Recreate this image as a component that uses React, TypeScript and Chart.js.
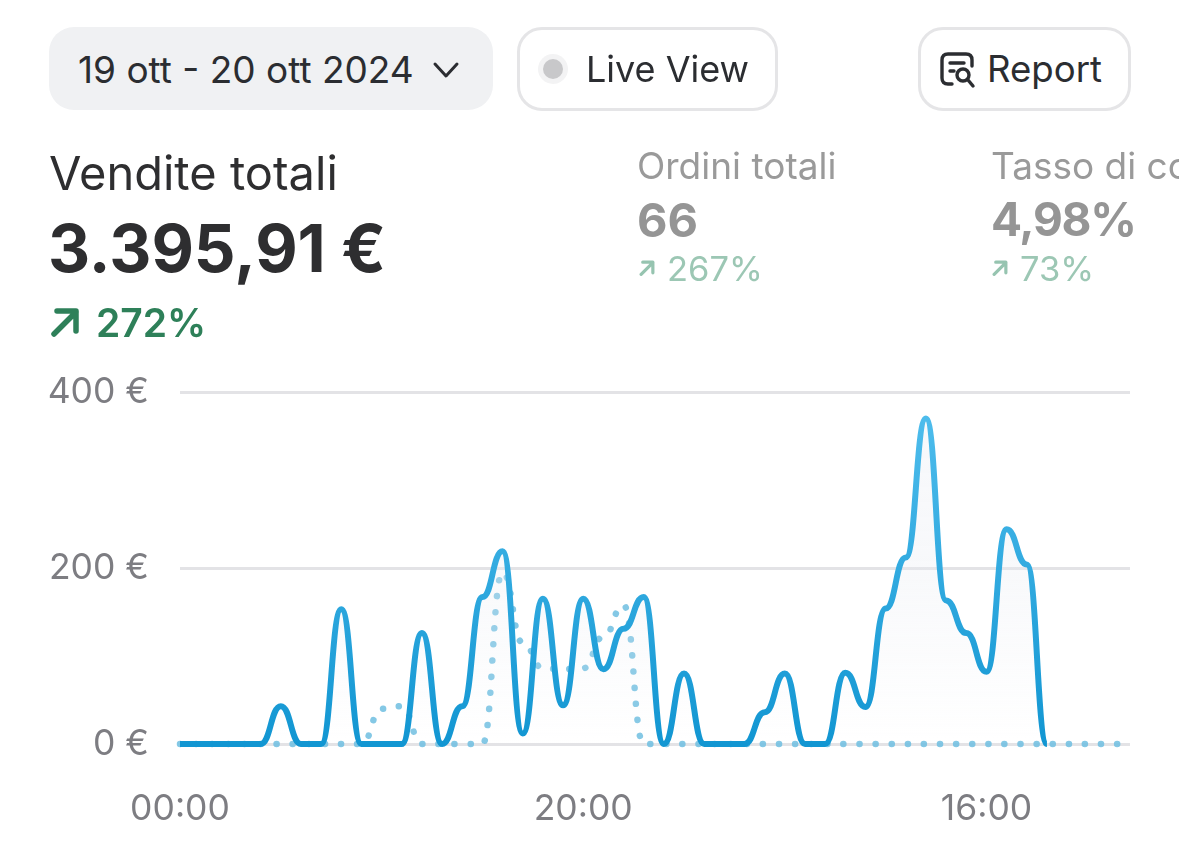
import React, { useEffect, useRef } from "react";
import { Chart, registerables } from "chart.js";

Chart.register(...registerables);

const hours = [
  "00:00","01:00","02:00","03:00","04:00","05:00","06:00","07:00","08:00","09:00","10:00","11:00",
  "12:00","13:00","14:00","15:00","16:00","17:00","18:00","19:00","20:00","21:00","22:00","23:00",
  "00:00","01:00","02:00","03:00","04:00","05:00","06:00","07:00","08:00","09:00","10:00","11:00",
  "12:00","13:00","14:00","15:00","16:00","17:00","18:00","19:00","20:00","21:00","22:00","23:00",
];
const currentSales = [
  0,0,0,0,0,43,0,0,153,0,0,0,
  126,0,43,167,219,12,165,44,165,85,131,167,
  0,80,0,0,0,36,80,0,0,81,42,154,
  212,370,163,126,82,244,204,0,null,null,null,null,
];
const previousSales = [
  0,0,0,0,0,0,0,0,0,0,40,43,
  0,0,0,0,195,115,86,85,86,122,158,0,
  0,0,0,0,0,0,0,0,0,0,0,0,
  0,0,0,0,0,0,0,0,0,0,0,0,
];
const yTicks = [0, 200, 400];
const font = "Inter, 'Noto Sans', sans-serif";

// Every data point gets a horizontal tangent, as in a rounded step curve.
const roundedStep = {
  id: "roundedStep",
  beforeDraw(chart: any) {
    chart.getSortedVisibleDatasetMetas().forEach((meta: any) => {
      meta.dataset.updateControlPoints(chart.chartArea, "x");
      const pts = meta.data;
      for (let i = 0; i < pts.length; i++) {
        const p = pts[i];
        const prev = pts[i - 1];
        const next = pts[i + 1];
        p.cp1x = prev ? (prev.x + p.x) / 2 : p.x;
        p.cp1y = p.y;
        p.cp2x = next ? (next.x + p.x) / 2 : p.x;
        p.cp2y = p.y;
      }
    });
  },
};

const T = ({ x, y, size, color, weight = 400, children, ls = 0 }: any) => (
  <div style={{ position: "absolute", left: x, top: y, fontSize: size, lineHeight: `${size}px`, color, fontWeight: weight, whiteSpace: "nowrap", letterSpacing: ls, transform: "translateY(-50%)" }}>{children}</div>
);

const Arrow = ({ x, y, s, color, w }: any) => (
  <svg style={{ position: "absolute", left: x, top: y }} width={s} height={s} viewBox="0 0 30 30" fill="none" stroke={color} strokeWidth={w} strokeLinecap="round" strokeLinejoin="round">
    <path d="M4 27 L26 5 M7 4 H26 V24" />
  </svg>
);

const Box = ({ x, y, w, h, bg, border }: any) => (
  <div style={{ position: "absolute", left: x, top: y, width: w, height: h, boxSizing: "border-box", borderRadius: 25, background: bg, border }} />
);

export default function App() {
  const ref = useRef<HTMLCanvasElement>(null);
  useEffect(() => {
    const chart = new Chart(ref.current!, {
      type: "line",
      plugins: [roundedStep],
      data: {
        datasets: [
          {
            data: currentSales.map((y, x) => ({ x, y })),
            cubicInterpolationMode: "monotone",
            borderWidth: 6,
            pointRadius: 0,
            clip: 8,
            fill: "origin",
            borderColor: (c: any) => {
              const a = c.chart.chartArea;
              if (!a) return "#1a9ad4";
              const g = c.chart.ctx.createLinearGradient(0, a.top, 0, a.bottom);
              g.addColorStop(0, "#52bfee");
              g.addColorStop(1, "#1296d2");
              return g;
            },
            backgroundColor: (c: any) => {
              const a = c.chart.chartArea;
              if (!a) return "transparent";
              const g = c.chart.ctx.createLinearGradient(0, a.top, 0, a.bottom);
              g.addColorStop(0, "rgba(232,235,242,0.35)");
              g.addColorStop(0.5, "rgba(232,235,242,0.3)");
              g.addColorStop(1, "rgba(232,235,242,0)");
              return g;
            },
            order: 0,
          },
          {
            data: previousSales.map((y, x) => ({ x, y })),
            cubicInterpolationMode: "monotone",
            borderWidth: 6.5,
            borderColor: "rgba(110,190,225,0.85)",
            borderDash: [0.1, 16],
            borderCapStyle: "round",
            pointRadius: 0,
            clip: 8,
            fill: false,
            order: 1,
          },
        ],
      },
      options: {
        animation: false,
        responsive: false,
        layout: { padding: { left: 0, right: 49, top: 392, bottom: 0 } },
        plugins: { legend: { display: false }, tooltip: { enabled: false } },
        scales: {
          x: {
            type: "linear",
            min: 0,
            max: 47.12,
            grid: { display: false },
            border: { display: false },
            afterFit: (s: any) => { s.height = 123; },
            ticks: {
              autoSkip: false,
              includeBounds: false,
              maxRotation: 0,
              stepSize: 20,
              padding: 36,
              color: "#7d7d82",
              font: { family: font, size: 35.5 },
              callback: (v: any) => (v % 20 === 0 ? hours[v] : null),
            },
          },
          y: {
            min: yTicks[0],
            max: yTicks[2],
            afterFit: (s: any) => { s.width = 180; },
            grid: { color: "#e3e3e6", lineWidth: 3, drawTicks: false },
            border: { display: false },
            ticks: {
              stepSize: 200,
              padding: 31,
              color: "#7d7d82",
              font: { family: font, size: 35.5 },
              callback: (v: any) => `${v} €`,
            },
          },
        },
      },
    } as any);
    return () => chart.destroy();
  }, []);

  return (
    <div style={{ position: "absolute", left: 0, top: 0, width: 1179, height: 867, overflow: "hidden", background: "#fff", fontFamily: font }}>
      <canvas ref={ref} width={1179} height={867} style={{ position: "absolute", left: 0, top: 0, width: 1179, height: 867 }} />
      <Box x={49} y={27} w={444} h={83} bg="#f0f1f3" />
      <T x={78} y={69} size={37} color="#2b2d31">19 ott - 20 ott 2024</T>
      <svg style={{ position: "absolute", left: 432, top: 60 }} width={28} height={20} viewBox="0 0 28 20" fill="none" stroke="#2b2d31" strokeWidth={3} strokeLinecap="round" strokeLinejoin="round"><path d="M3 4 L14 16 L25 4" /></svg>
      <Box x={517} y={27} w={261} h={84} bg="#fff" border="3px solid #e5e5e7" />
      <div style={{ position: "absolute", left: 538, top: 54, width: 30, height: 30, borderRadius: 15, background: "#f3f3f4" }} />
      <div style={{ position: "absolute", left: 543, top: 59, width: 20, height: 20, borderRadius: 10, background: "#c8c8ca" }} />
      <T x={586} y={69} size={36} color="#2b2d31">Live View</T>
      <Box x={918} y={27} w={213} h={84} bg="#fff" border="3px solid #e5e5e7" />
      <svg style={{ position: "absolute", left: 939, top: 51 }} width={38} height={38} viewBox="0 0 38 38" fill="none" stroke="#2b2d31" strokeWidth={3.4} strokeLinecap="round" strokeLinejoin="round">
        <path d="M13 33 H9 Q3 33 3 27 V9 Q3 3 9 3 H27 Q33 3 33 9 V15" />
        <path d="M11 12 H25 M11 20 H15" />
        <circle cx="24" cy="24" r="6" />
        <path d="M29 29 L34 35" />
      </svg>
      <T x={987} y={69} size={36.6} color="#2b2d31">Report</T>

      <T x={49} y={172} size={47} color="#2e2e30">Vendite totali</T>
      <T x={48} y={249} size={65.4} weight={700} color="#2e2e30">3.395,91 €</T>
      <Arrow x={50} y={307} s={30} color="#2e8059" w={5.5} />
      <T x={96} y={322} size={39} weight={600} color="#2e8059">272%</T>

      <T x={637} y={165} size={37} color="#9a9a9a">Ordini totali</T>
      <T x={637} y={219} size={47} weight={700} color="#959595">66</T>
      <Arrow x={639} y={260} s={16} color="#96c4b0" w={6} />
      <T x={667} y={269} size={34.5} color="#9cc7b4">267%</T>

      <T x={991} y={165} size={37} color="#9a9a9a">Tasso di conversione</T>
      <T x={991} y={219} size={46} weight={700} ls={-1.2} color="#959595">4,98%</T>
      <Arrow x={992} y={260} s={16} color="#96c4b0" w={6} />
      <T x={1020} y={269} size={34.5} color="#9cc7b4">73%</T>
    </div>
  );
}
